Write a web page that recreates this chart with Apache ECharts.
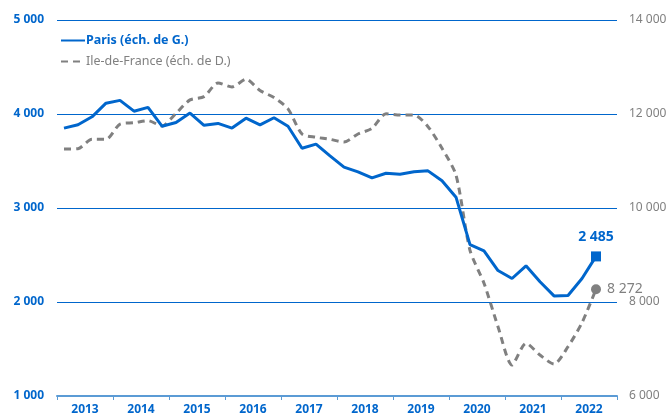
<!DOCTYPE html>
<html>
<head>
<meta charset="utf-8">
<script src="https://cdn.jsdelivr.net/npm/echarts@6/dist/echarts.min.js"></script>
<style>
  html, body { margin: 0; padding: 0; background: #fff; }
  #chart { width: 671px; height: 419px; }
</style>
</head>
<body>
<div id="chart"></div>
<script>
// trimestres 2013T1 .. 2022T4 (le dernier est vide)
const years = ['2013', '2014', '2015', '2016', '2017', '2018', '2019', '2020', '2021', '2022']
const quarters = []
years.forEach(y => { for (let q = 1; q <= 4; q++) quarters.push(y + 'T' + q) })

const paris = [
  3850, 3885, 3970, 4115, 4145, 4030, 4070, 3870, 3910, 4010,
  3880, 3900, 3850, 3955, 3885, 3960, 3870, 3635, 3680, 3555,
  3435, 3385, 3320, 3370, 3360, 3385, 3395, 3290, 3115, 2610,
  2545, 2335, 2250, 2385, 2215, 2065, 2070, 2250, 2485
]
const idf = [
  11255, 11262, 11465, 11462, 11785, 11815, 11858, 11745, 12015, 12300,
  12370, 12660, 12575, 12740, 12500, 12350, 12110, 11575, 11505, 11462,
  11404, 11574, 11695, 12005, 11979, 11979, 11730, 11270, 10700, 9100,
  8400, 7475, 6660, 7121, 6872, 6680, 7050, 7560, 8272
]

const leftTicks = { min: 1000, max: 5000, interval: 1000 }
const rightTicks = { min: 6000, max: 14000, interval: 2000 }

const blue = '#0066CC'
const grey = '#808080'
const font = 'Noto Sans'

const fmt = v => String(v).replace(/\B(?=(\d{3})+(?!\d))/g, ' ')

const chart = echarts.init(document.getElementById('chart'))

const lastParis = paris.map((v, i) => i === paris.length - 1
  ? {
      value: v, symbol: 'rect', symbolSize: 10,
      label: { show: true, position: 'top', distance: 7, formatter: p => fmt(p.value), color: blue, fontWeight: 'bold', fontSize: 14, fontFamily: font }
    }
  : v)
const lastIdf = idf.map((v, i) => i === idf.length - 1
  ? {
      value: v, symbol: 'circle', symbolSize: 10,
      label: { show: true, position: 'right', distance: 6, formatter: p => fmt(p.value), color: grey, fontSize: 14, fontFamily: font }
    }
  : v)

const option = {
  animation: false,
  textStyle: { fontFamily: font },
  grid: { left: 57, right: 54, top: 20, bottom: 23 },
  legend: {
    orient: 'vertical',
    left: 55,
    top: 29,
    itemWidth: 24,
    itemHeight: 10,
    itemGap: 8,
    itemStyle: { opacity: 0 },
    data: [
      { name: 'Paris (éch. de G.)', textStyle: { color: blue, fontWeight: 'bold', fontSize: 12.5 } },
      { name: 'Ile-de-France (éch. de D.)', textStyle: { color: grey, fontSize: 12.5 } }
    ],
    textStyle: { fontFamily: font, padding: [0, 0, 0, -4] }
  },
  xAxis: [
    {
      type: 'category',
      data: quarters,
      boundaryGap: true,
      show: false
    },
    {
      type: 'category',
      data: years,
      position: 'bottom',
      boundaryGap: true,
      axisLine: { lineStyle: { color: '#5B9BD5', width: 2 } },
      axisTick: { show: true, length: 4, interval: 0, lineStyle: { color: '#5B9BD5', width: 1 } },
      axisLabel: { color: blue, fontWeight: 'bold', fontSize: 12, margin: 8, interval: 0 },
      splitLine: { show: false }
    }
  ],
  yAxis: [
    {
      type: 'value',
      position: 'left',
      min: leftTicks.min, max: leftTicks.max, interval: leftTicks.interval,
      axisLine: { show: false },
      axisTick: { show: false },
      axisLabel: { color: blue, fontWeight: 'bold', fontSize: 12, margin: 13, formatter: fmt },
      splitLine: { lineStyle: { color: blue, width: 1 } }
    },
    {
      type: 'value',
      position: 'right',
      min: rightTicks.min, max: rightTicks.max, interval: rightTicks.interval,
      axisLine: { show: false },
      axisTick: { show: false },
      axisLabel: { color: grey, fontSize: 12, margin: 12, formatter: fmt },
      splitLine: { show: false }
    }
  ],
  series: [
    {
      name: 'Paris (éch. de G.)',
      type: 'line',
      xAxisIndex: 0,
      yAxisIndex: 0,
      data: lastParis,
      symbol: 'none',
      lineStyle: { color: blue, width: 3 },
      itemStyle: { color: blue },
      z: 3
    },
    {
      name: 'Ile-de-France (éch. de D.)',
      type: 'line',
      xAxisIndex: 0,
      yAxisIndex: 1,
      data: lastIdf,
      symbol: 'none',
      smooth: 0.25,
      lineStyle: { color: grey, width: 3, type: [7, 5] },
      itemStyle: { color: grey },
      z: 2
    }
  ]
}

chart.setOption(option)
</script>
</body>
</html>
